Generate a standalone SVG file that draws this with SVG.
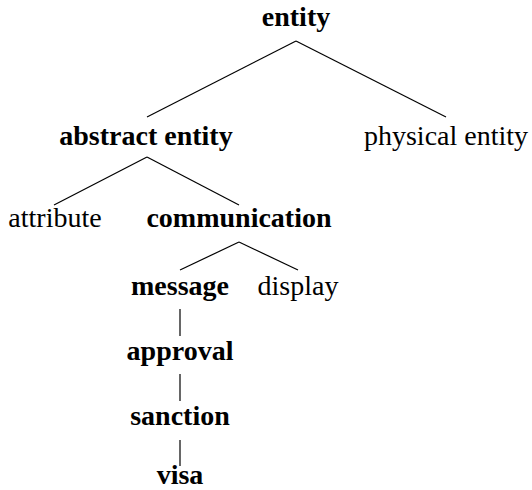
<svg xmlns="http://www.w3.org/2000/svg" width="532" height="490" viewBox="0 0 532 490">
<style>
text{font-family:"Liberation Serif","Times New Roman",serif;font-size:28px;text-anchor:middle;fill:#000}
.b{font-weight:bold}
line{stroke:#000;stroke-width:1.2}
</style>
<rect width="532" height="490" fill="#fff"/>
<g id="connectors">
<line x1="296" y1="41" x2="147" y2="117"/>
<line x1="296" y1="41" x2="446" y2="117"/>
<line x1="147" y1="157" x2="54" y2="205"/>
<line x1="147" y1="157" x2="239" y2="205"/>
<line x1="239" y1="242" x2="180" y2="270"/>
<line x1="239" y1="242" x2="298" y2="270"/>
<line x1="180" y1="309" x2="180" y2="336"/>
<line x1="180" y1="374" x2="180" y2="401"/>
<line x1="180" y1="440" x2="180" y2="466"/>
</g>
<g id="entity"><text class="b" x="296" y="26">entity</text></g>
<g id="abstract-entity"><text class="b" x="146" y="145">abstract entity</text></g>
<g id="physical-entity"><text x="446" y="145">physical entity</text></g>
<g id="attribute"><text x="55" y="227">attribute</text></g>
<g id="communication"><text class="b" x="239" y="227">communication</text></g>
<g id="message"><text class="b" x="180" y="295">message</text></g>
<g id="display"><text x="298" y="295">display</text></g>
<g id="approval"><text class="b" x="180" y="360">approval</text></g>
<g id="sanction"><text class="b" x="180" y="425">sanction</text></g>
<g id="visa"><text class="b" x="180" y="484">visa</text></g>
</svg>
